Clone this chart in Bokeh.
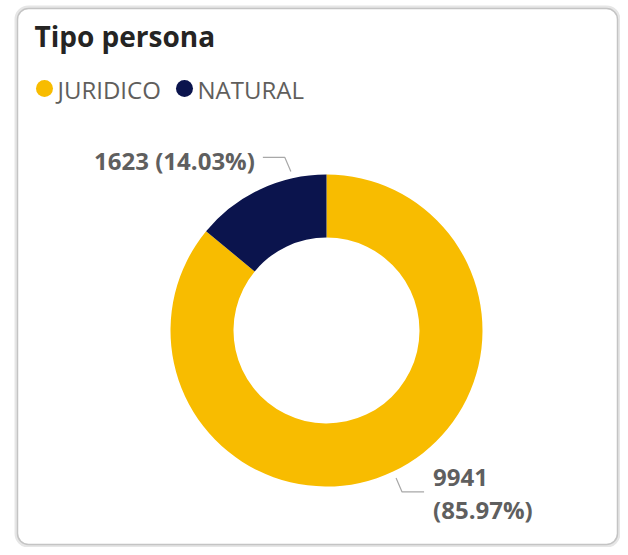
import math
from bokeh.plotting import figure
from bokeh.models import Range1d, ColumnDataSource
from bokeh.core.properties import value
from bokeh.embed import file_html
from bokeh.resources import INLINE

# ---- data ----
title = "Tipo persona"
categories = ["JURIDICO", "NATURAL"]
values = [9941, 1623]

# ---- style ----
colors = ["#F8BC00", "#0B144D"]
label_color = "#5F5F5F"
legend_color = "#605E5C"
W, H = 620, 547

def Y(sy):
    # screen y (from top of picture) -> data y
    return H - sy

def X(sx):
    return sx

p = figure(width=W, height=H, output_backend="svg", toolbar_location=None,
           x_range=Range1d(0, W), y_range=Range1d(0, H),
           x_axis_type=None, y_axis_type=None, min_border=0)
p.grid.visible = False
p.outline_line_color = None
p.background_fill_color = "white"

# card
p.quad(left=[X(16)], right=[X(618)], top=[Y(7)], bottom=[Y(545)],
       fill_color=None, line_color="#E6E6E6", line_width=4, border_radius=12)
p.quad(left=[X(17)], right=[X(617)], top=[Y(8)], bottom=[Y(544)],
       fill_color="white", line_color="#C4C4C4", line_width=1.5, border_radius=11)

# title
p.text(x=[X(34)], y=[Y(35)], text=[title], text_font=value("Open Sans"),
       text_font_style="bold", text_font_size="28px", text_color="#252423",
       text_baseline="middle")

# legend
lx = [X(44), X(184)]
p.scatter(x=lx, y=[Y(88)] * 2, size=17, marker="circle", fill_color=colors,
          line_color=None)
p.text(x=[v + 13 for v in lx], y=[Y(89)] * 2, text=categories,
       text_font=value("Open Sans"), text_font_size="24px",
       text_color=legend_color, text_baseline="middle")

# donut
cx, cy = X(326), Y(330)
r_out, r_in = 156, 93
total = sum(values)
fracs = [v / total for v in values]
starts, ends = [], []
acc = 0.0
for f in fracs:
    starts.append(math.pi / 2 - 2 * math.pi * acc)
    acc += f
    ends.append(math.pi / 2 - 2 * math.pi * acc)
src = ColumnDataSource(dict(start=starts, end=ends, color=colors))
p.annular_wedge(x=cx, y=cy, inner_radius=r_in, outer_radius=r_out,
                start_angle="start", end_angle="end", direction="clock",
                fill_color="color", line_color=None, source=src)

# labels with leader lines
pct = [f"({100 * v / total:.2f}%)" for v in values]
anchor_frac = [0.5, 0.75]
for i in range(len(values)):
    a = starts[i] + (ends[i] - starts[i]) * anchor_frac[i]
    sx = cx + (r_out + 7) * math.cos(a)
    sy = cy + (r_out + 7) * math.sin(a)
    side = 1 if math.cos(a) > 0 else -1
    vdir = 1 if math.sin(a) > 0 else -1
    ex, ey = sx + side * 6, sy + vdir * 14
    fx = ex + side * 22
    p.line(x=[sx, ex, fx], y=[sy, ey, ey], line_color="#A8A8A8", line_width=1.2)
    if side < 0:
        p.text(x=[fx - 8], y=[ey - 3], text=[f"{values[i]} {pct[i]}"],
               text_font=value("Open Sans"), text_font_style="bold",
               text_font_size="24px", text_color=label_color,
               text_align="right", text_baseline="middle")
    else:
        p.text(x=[fx + 9, fx + 9], y=[ey + 14, ey - 18],
               text=[str(values[i]), pct[i]],
               text_font=value("Open Sans"), text_font_style="bold",
               text_font_size="24px", text_color=label_color,
               text_align="left", text_baseline="middle")

open("out.html", "w").write(file_html(p, INLINE))
